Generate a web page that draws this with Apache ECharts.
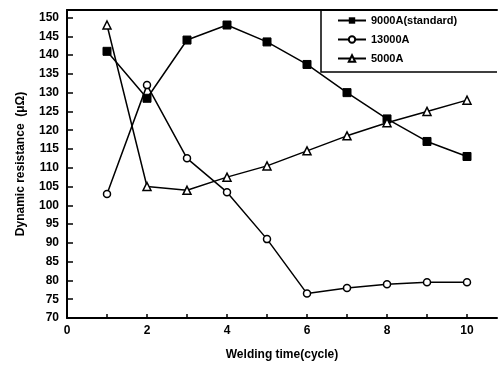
<!DOCTYPE html>
<html>
<head>
<meta charset="utf-8">
<script src="https://cdn.jsdelivr.net/npm/echarts@6/dist/echarts.min.js"></script>
<style>html,body{margin:0;padding:0;background:#fff;}#c{width:499px;height:367px;}</style>
</head>
<body>
<div id="c"></div>
<script>
var cycles = [1, 2, 3, 4, 5, 6, 7, 8, 9, 10];
var s9000 = [141, 128.5, 144, 148, 143.5, 137.5, 130, 123, 117, 113];
var s13000 = [103, 132, 112.5, 103.5, 91, 76.5, 78, 79, 79.5, 79.5];
var s5000 = [148, 105, 104, 107.5, 110.5, 114.5, 118.5, 122, 125, 128];
var seriesNames = ['9000A(standard)', '13000A', '5000A'];

function pairs(vals) { return cycles.map(function (c, i) { return [c, vals[i]]; }); }

var font = 'Liberation Sans';
var chart = echarts.init(document.getElementById('c'));
var lineStyle = { color: '#000', width: 1.5 };
chart.setOption({
  animation: false,
  backgroundColor: '#fff',
  textStyle: { fontFamily: font },
  grid: { left: 67, top: 10, right: 2, bottom: 49 },
  legend: {
    orient: 'vertical', left: 332, top: 10, itemGap: 8, itemWidth: 28, itemHeight: 8,
    textStyle: { fontFamily: font, fontSize: 11, fontWeight: 'bold', color: '#000' },
    data: seriesNames
  },
  xAxis: [{
    type: 'value', min: 0, max: 10.75, interval: 1,
    name: 'Welding time(cycle)', nameLocation: 'middle', nameGap: 31,
    nameTextStyle: { fontSize: 12, fontWeight: 'bold', color: '#000' },
    axisLine: { lineStyle: { color: '#000', width: 2 } },
    axisTick: { inside: true, length: 4, lineStyle: { color: '#000', width: 1.5 } },
    axisLabel: { margin: 7, fontSize: 12, fontWeight: 'bold', color: '#000', showMaxLabel: false,
      formatter: function (v) { return v % 2 === 0 ? String(v) : ''; } },
    splitLine: { show: false }
  }, {
    type: 'value', position: 'top', min: 0, max: 10.75,
    axisLine: { show: true, lineStyle: { color: '#000', width: 2 } },
    axisTick: { show: false }, axisLabel: { show: false }, splitLine: { show: false }
  }],
  yAxis: {
    type: 'value', min: 70, max: 152, interval: 5,
    name: 'Dynamic resistance  (\u03bc\u03a9)', nameLocation: 'middle', nameGap: 40, nameRotate: 90,
    nameTextStyle: { fontSize: 12, fontWeight: 'bold', color: '#000' },
    axisLine: { lineStyle: { color: '#000', width: 2 } },
    axisTick: { inside: true, length: 6, lineStyle: { color: '#000', width: 1.5 } },
    axisLabel: { margin: 8, fontSize: 12, fontWeight: 'bold', color: '#000', showMaxLabel: false },
    splitLine: { show: false }
  },
  graphic: [{
    type: 'polyline', silent: true,
    shape: { points: [[321, 10], [321, 72], [497, 72]] },
    style: { stroke: '#000', lineWidth: 1.5, fill: null }
  }],
  series: [{
    name: seriesNames[0], type: 'line', data: pairs(s9000),
    symbol: 'rect', symbolSize: 8, lineStyle: lineStyle,
    itemStyle: { color: '#000', borderColor: '#000' }
  }, {
    name: seriesNames[1], type: 'line', data: pairs(s13000),
    symbol: 'circle', symbolSize: 7, lineStyle: lineStyle,
    itemStyle: { color: '#fff', borderColor: '#000', borderWidth: 1.5 }
  }, {
    name: seriesNames[2], type: 'line', data: pairs(s5000),
    symbol: 'triangle', symbolSize: 8, lineStyle: lineStyle,
    itemStyle: { color: '#fff', borderColor: '#000', borderWidth: 1.5 }
  }]
});
</script>
</body>
</html>
